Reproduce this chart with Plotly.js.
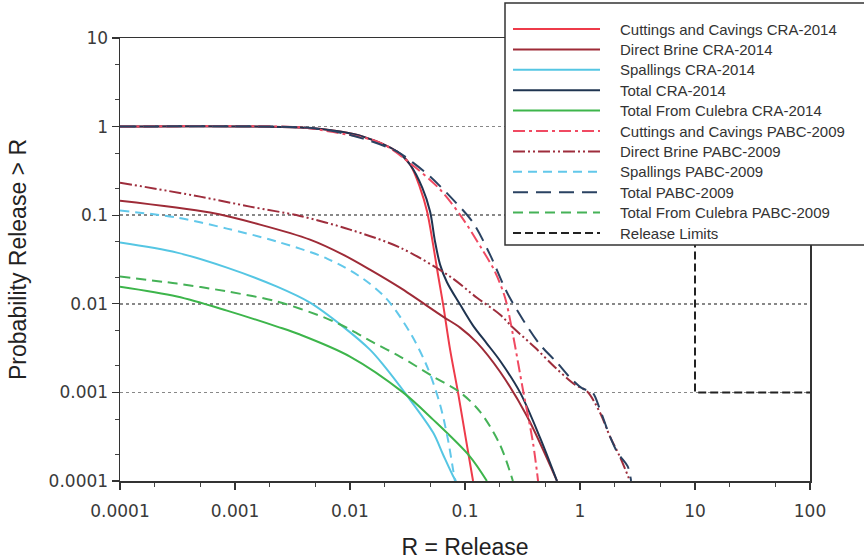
<!DOCTYPE html>
<html><head><meta charset="utf-8">
<script src="https://cdn.plot.ly/plotly-3.0.1.min.js"></script>
<style>html,body{margin:0;padding:0;background:#fff}#chart{width:864px;height:560px}</style>
</head><body><div id="chart"></div>
<script>
// ---------- data ----------
const seriesNames = [
  'Cuttings and Cavings CRA-2014', 'Direct Brine CRA-2014', 'Spallings CRA-2014',
  'Total CRA-2014', 'Total From Culebra CRA-2014', 'Cuttings and Cavings PABC-2009',
  'Direct Brine PABC-2009', 'Spallings PABC-2009', 'Total PABC-2009',
  'Total From Culebra PABC-2009', 'Release Limits'
];

const cuttingsCraX = [0.0001, 0.0037, 0.0082, 0.013, 0.0257, 0.0333, 0.0406, 0.0468, 0.0528, 0.0582, 0.0644, 0.0742, 0.0869, 0.102, 0.1175];
const cuttingsCraY = [1, 0.974, 0.879, 0.771, 0.522, 0.373, 0.205, 0.11, 0.0466, 0.0214, 0.01, 0.00304, 0.001, 0.000293, 0.0001];

const brineCraX = [0.0001, 0.000607, 0.00165, 0.00449, 0.00869, 0.0149, 0.0272, 0.0644, 0.0906, 0.127, 0.201, 0.346, 0.631];
const brineCraY = [0.146, 0.107, 0.0783, 0.053, 0.0359, 0.0243, 0.0152, 0.00717, 0.00539, 0.00365, 0.00172, 0.000537, 0.0001];

const spallCraX = [0.0001, 0.000313, 0.000851, 0.00232, 0.00449, 0.00869, 0.0149, 0.0194, 0.0313, 0.0528, 0.0644, 0.0787, 0.0836];
const spallCraY = [0.0491, 0.0378, 0.0256, 0.0156, 0.0103, 0.00553, 0.00304, 0.00206, 0.00092, 0.000352, 0.000199, 0.000114, 0.0001];

const totalCraX = [0.0001, 0.0037, 0.0082, 0.013, 0.0257, 0.0333, 0.0425, 0.0497, 0.0545, 0.0607, 0.0697, 0.0906, 0.1175, 0.155, 0.201, 0.301, 0.449, 0.631];
const totalCraY = [1, 0.974, 0.879, 0.771, 0.522, 0.373, 0.205, 0.11, 0.053, 0.0277, 0.0175, 0.0098, 0.00567, 0.00356, 0.00229, 0.001, 0.000309, 0.0001];

const culebraCraX = [0.0001, 0.000313, 0.000851, 0.00232, 0.00367, 0.01, 0.0289, 0.0528, 0.11, 0.155];
const culebraCraY = [0.0156, 0.0121, 0.00838, 0.00553, 0.0045, 0.00254, 0.001, 0.000493, 0.00019, 0.0001];

const cuttingsPabcX = [0.0001, 0.0037, 0.0067, 0.0182, 0.0353, 0.0607, 0.0942, 0.141, 0.182, 0.223, 0.261, 0.319, 0.39, 0.432];
const cuttingsPabcY = [1, 0.98, 0.878, 0.66, 0.363, 0.195, 0.094, 0.041, 0.0231, 0.0117, 0.0045, 0.00107, 0.000271, 0.0001];

const brinePabcX = [0.0001, 0.000497, 0.00135, 0.00367, 0.01, 0.0272, 0.0742, 0.127, 0.201, 0.261, 0.406, 0.609, 0.906, 1.15, 1.49, 1.82, 2.23, 2.72];
const brinePabcY = [0.233, 0.162, 0.125, 0.098, 0.0688, 0.0431, 0.0203, 0.0117, 0.00757, 0.00539, 0.00321, 0.00191, 0.00122, 0.00103, 0.000592, 0.000319, 0.000186, 0.0001];

const spallPabcX = [0.0001, 0.000313, 0.000851, 0.00232, 0.00631, 0.013, 0.021, 0.0333, 0.0468, 0.0607, 0.0711, 0.0787, 0.0818];
const spallPabcY = [0.113, 0.094, 0.0706, 0.0504, 0.0324, 0.0192, 0.0112, 0.00473, 0.00196, 0.000728, 0.000293, 0.000135, 0.0001];

const totalPabcX = [0.0001, 0.0037, 0.0067, 0.013, 0.0257, 0.0353, 0.0497, 0.0787, 0.1175, 0.165, 0.232, 0.319, 0.449, 0.631, 0.819, 1.06, 1.28, 1.49, 1.82, 2.12, 2.6, 2.78];
const totalPabcY = [1, 0.98, 0.901, 0.732, 0.522, 0.392, 0.273, 0.15, 0.0825, 0.0359, 0.0134, 0.00662, 0.00346, 0.00217, 0.00147, 0.0011, 0.001, 0.000644, 0.000319, 0.000209, 0.000146, 0.0001];

const culebraPabcX = [0.0001, 0.000313, 0.000851, 0.00232, 0.00631, 0.01, 0.0149, 0.0272, 0.0528, 0.0906, 0.135, 0.201, 0.261];
const culebraPabcY = [0.0203, 0.0169, 0.0138, 0.0106, 0.00681, 0.00514, 0.00384, 0.00254, 0.00151, 0.001, 0.000607, 0.000258, 0.0001];

const limitsX = [1, 1, 10, 10, 100];
const limitsY = [1, 0.1, 0.1, 0.001, 0.001];

const xTickVals = [0.0001, 0.001, 0.01, 0.1, 1, 10, 100];
const xTickText = ['0.0001', '0.001', '0.01', '0.1', '1', '10', '100'];
const yTickVals = [0.0001, 0.001, 0.01, 0.1, 1, 10];
const yTickText = ['0.0001', '0.001', '0.01', '0.1', '1', '10'];

// ---------- styling ----------
const seriesX = [cuttingsCraX, brineCraX, spallCraX, totalCraX, culebraCraX,
  cuttingsPabcX, brinePabcX, spallPabcX, totalPabcX, culebraPabcX, limitsX];
const seriesY = [cuttingsCraY, brineCraY, spallCraY, totalCraY, culebraCraY,
  cuttingsPabcY, brinePabcY, spallPabcY, totalPabcY, culebraPabcY, limitsY];
const colors = ['#ee3b4a', '#9e2b37', '#55c6e3', '#1f3450', '#3db54b',
  '#f04a62', '#9e2d3c', '#62c8ea', '#2a4262', '#45b257', '#222222'];
const dashes = ['solid', 'solid', 'solid', 'solid', 'solid',
  '12px,4px,3px,4px', '12px,3px,2px,3px,2px,3px', '9px,6px', '15px,8px', '10px,6px', '8px,4px'];

const traces = seriesNames.map((name, i) => ({
  type: 'scatter', mode: 'lines', name: name, showlegend: false,
  x: seriesX[i], y: seriesY[i],
  line: {color: colors[i], width: 2, dash: dashes[i], shape: i === 10 ? 'linear' : 'spline', smoothing: 0.9},
  hoverinfo: 'skip'
}));

// plot-area geometry (pixels) used to place the hand-built legend box
const M = {l: 120, r: 54, t: 38, b: 79};
const W = 864, H = 560;
const pw = W - M.l - M.r, ph = H - M.t - M.b;
const px2x = px => (px - M.l) / pw;
const py2y = py => (H - M.b - py) / ph;

const legendShapes = [{
  type: 'rect', xref: 'paper', yref: 'paper', layer: 'above',
  x0: px2x(505), x1: px2x(880), y0: py2y(245), y1: py2y(3),
  fillcolor: '#ffffff', line: {color: '#333', width: 1.5}
}];
const legendAnnotations = [];
seriesNames.forEach((name, i) => {
  const rowY = 29 + 20.4 * i;
  legendShapes.push({
    type: 'line', xref: 'paper', yref: 'paper', layer: 'above',
    x0: px2x(513), x1: px2x(600), y0: py2y(rowY), y1: py2y(rowY),
    line: {color: colors[i], width: 2, dash: dashes[i]}
  });
  legendAnnotations.push({
    xref: 'paper', yref: 'paper', x: px2x(618), y: py2y(rowY),
    xanchor: 'left', yanchor: 'middle', showarrow: false, text: name,
    font: {family: 'Liberation Sans, Arial, sans-serif', size: 15, color: '#333'}
  });
});

const axisCommon = {
  type: 'log', showline: true, linecolor: '#333', linewidth: 1.5, mirror: true,
  ticks: 'outside', ticklen: 7, tickcolor: '#333', tickwidth: 1.2,
  tickfont: {family: 'DejaVu Sans, sans-serif', size: 17, color: '#3a3a3a'},
  minor: {ticks: 'outside', ticklen: 4, tickcolor: '#444', tickwidth: 1, showgrid: false},
  zeroline: false
};

const layout = {
  width: W, height: H,
  margin: Object.assign({autoexpand: false}, M),
  paper_bgcolor: '#fff', plot_bgcolor: '#fff',
  font: {family: 'Liberation Sans, Arial, sans-serif', color: '#222'},
  xaxis: Object.assign({}, axisCommon, {
    range: [-4, 2], tickvals: xTickVals, ticktext: xTickText, showgrid: false,
    ticklabelstandoff: 7,
    title: {text: 'R = Release', font: {size: 23, color: '#222'}, standoff: 21}
  }),
  yaxis: Object.assign({}, axisCommon, {
    range: [-4, 1], tickvals: yTickVals, ticktext: yTickText,
    showgrid: true, gridcolor: '#888', griddash: 'dot', gridwidth: 1.5,
    title: {text: 'Probability Release > R', font: {size: 23, color: '#222'}, standoff: 15}
  }),
  showlegend: false,
  shapes: legendShapes,
  annotations: legendAnnotations
};

Plotly.newPlot('chart', traces, layout, {staticPlot: true, displayModeBar: false});
</script>
</body></html>
